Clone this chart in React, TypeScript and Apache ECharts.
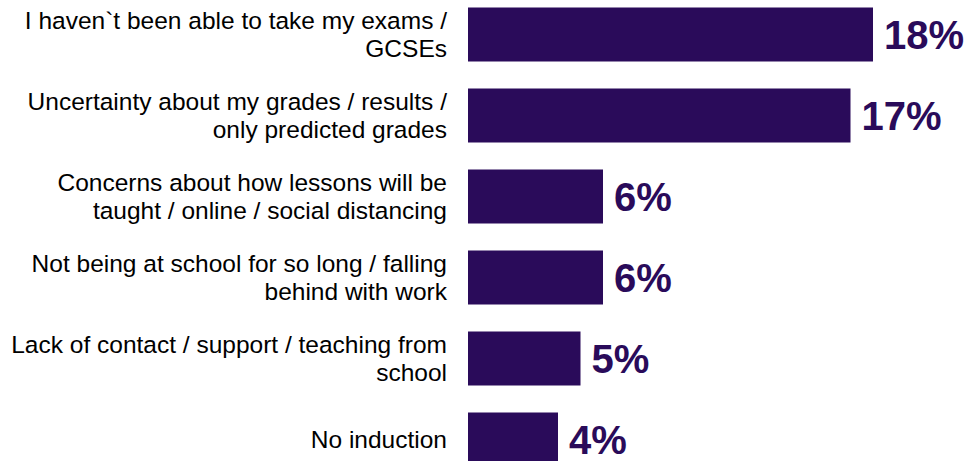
import React, { useEffect, useRef } from "react";
import * as echarts from "echarts";

const categories = [
  "I haven`t been able to take my exams /\nGCSEs",
  "Uncertainty about my grades / results /\nonly predicted grades",
  "Concerns about how lessons will be\ntaught / online / social distancing",
  "Not being at school for so long / falling\nbehind with work",
  "Lack of contact / support / teaching from\nschool",
  "No induction",
];
const values = [18, 17, 6, 6, 5, 4];

const BAR_COLOR = "#2a0b5a";
const FONT = "'Liberation Sans', Arial, sans-serif";

export default function App() {
  const ref = useRef<HTMLDivElement>(null);
  useEffect(() => {
    if (!ref.current) return;
    const chart = echarts.init(ref.current, null, { renderer: "svg" });
    chart.setOption({
      animation: false,
      grid: { left: 468, right: 6, top: 0, bottom: 0, containLabel: false },
      xAxis: {
        type: "value",
        min: 0,
        max: 22,
        show: false,
      },
      yAxis: {
        type: "category",
        data: categories,
        inverse: true,
        axisLine: { show: false },
        axisTick: { show: false },
        splitLine: { show: false },
        axisLabel: {
          margin: 21,
          fontFamily: FONT,
          fontSize: 24.5,
          lineHeight: 28,
          color: "#000",
          align: "right",
        },
      },
      series: [
        {
          type: "bar",
          data: values,
          barWidth: 54,
          itemStyle: { color: BAR_COLOR },
          label: {
            show: true,
            position: "right",
            distance: 11,
            formatter: "{c}%",
            fontFamily: FONT,
            fontSize: 40,
            fontWeight: "bold",
            color: BAR_COLOR,
          },
        },
      ],
    });
    return () => chart.dispose();
  }, []);
  return (
    <div
      style={{
        position: "fixed",
        left: 0,
        top: 0,
        width: 969,
        height: 461,
        overflow: "hidden",
        background: "#fff",
      }}
    >
      <div
        ref={ref}
        style={{ position: "absolute", left: 0, top: -6, width: 969, height: 486 }}
      />
    </div>
  );
}
